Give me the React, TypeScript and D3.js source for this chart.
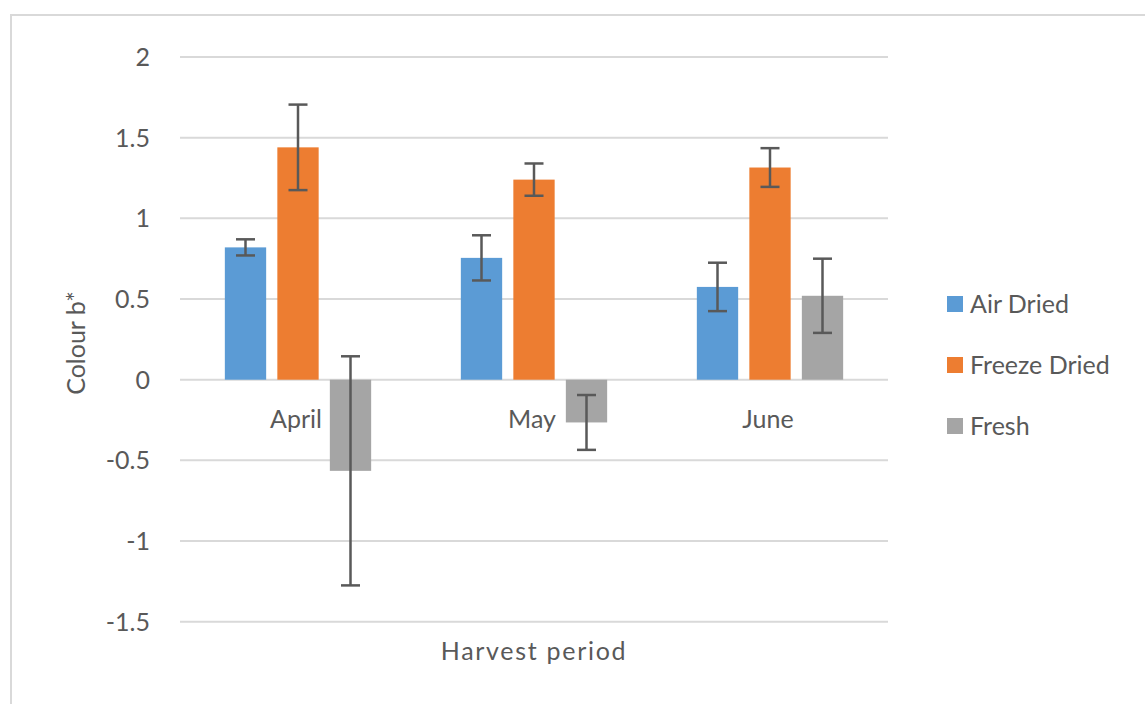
import React from "react";
import * as d3 from "d3";

const categories = ["April", "May", "June"];
const seriesNames = ["Air Dried", "Freeze Dried", "Fresh"];
const airDried = [0.82, 0.755, 0.575];
const freezeDried = [1.44, 1.24, 1.315];
const fresh = [-0.565, -0.265, 0.52];
const airDriedErr = [0.05, 0.14, 0.15];
const freezeDriedErr = [0.265, 0.1, 0.12];
const freshErr = [0.71, 0.17, 0.23];
const yTicks = [-1.5, -1, -0.5, 0, 0.5, 1, 1.5, 2];
const colors = ["#5B9BD5", "#ED7D31", "#A5A5A5"];

const W = 1145;
const H = 704;
const FONT = "Lato, 'Open Sans', sans-serif";
const TEXT = "#595959";

export default function App() {
  const seriesValues = [airDried, freezeDried, fresh];
  const seriesErrs = [airDriedErr, freezeDriedErr, freshErr];

  const y = d3.scaleLinear().domain([-1.5, 2]).range([621.7, 57]);
  const x0 = d3.scaleBand<string>().domain(categories).range([180, 888]).paddingInner(0).paddingOuter(0);
  const groupW = 157.5;
  const x1 = d3
    .scaleBand<string>()
    .domain(seriesNames)
    .range([-groupW / 2, groupW / 2])
    .paddingInner(0.213)
    .paddingOuter(0.1065);
  const bw = x1.bandwidth();
  const capW = 19;

  return (
    <svg
      width={W}
      height={H}
      style={{ position: "absolute", left: 0, top: 0, background: "#fff" }}
      fontFamily={FONT}
    >
      <rect x={0} y={0} width={W} height={H} fill="#fff" />
      <rect x={11} y={15} width={W + 20} height={H + 20} fill="none" stroke="#d9d9d9" strokeWidth={2} />

      {yTicks.map((t) => (
        <g key={t}>
          <line x1={180} x2={888} y1={y(t)} y2={y(t)} stroke="#d9d9d9" strokeWidth={2} />
          <text x={150} y={y(t)} dy="0.36em" textAnchor="end" fontSize={25} fill={TEXT}>
            {String(t)}
          </text>
        </g>
      ))}

      {categories.map((c, ci) => {
        const cx = (x0(c) as number) + x0.bandwidth() / 2;
        return (
          <g key={c}>
            {seriesNames.map((s, si) => {
              const v = seriesValues[si][ci];
              const e = seriesErrs[si][ci];
              const bx = cx + (x1(s) as number);
              const mid = bx + bw / 2;
              return (
                <g key={s}>
                  <rect
                    x={bx}
                    y={Math.min(y(v), y(0))}
                    width={bw}
                    height={Math.abs(y(v) - y(0))}
                    fill={colors[si]}
                  />
                  <g stroke="#595959" strokeWidth={2.5}>
                    <line x1={mid} x2={mid} y1={y(v + e)} y2={y(v - e)} />
                    <line x1={mid - capW / 2} x2={mid + capW / 2} y1={y(v + e)} y2={y(v + e)} />
                    <line x1={mid - capW / 2} x2={mid + capW / 2} y1={y(v - e)} y2={y(v - e)} />
                  </g>
                </g>
              );
            })}
            <text x={cx - 2} y={428} textAnchor="middle" fontSize={25} fill={TEXT}>
              {c}
            </text>
          </g>
        );
      })}

      <text x={534} y={660} textAnchor="middle" fontSize={25} letterSpacing={1.7} fill={TEXT}>
        Harvest period
      </text>
      <text
        transform={`translate(85,343) rotate(-90)`}
        textAnchor="middle"
        fontSize={25}
        fill={TEXT}
      >
        Colour b*
      </text>

      {seriesNames.map((s, i) => {
        const ly = 304 + i * 61;
        return (
          <g key={s}>
            <rect x={947} y={ly - 8} width={16} height={16} fill={colors[i]} />
            <text x={970} y={ly} dy="0.36em" fontSize={25} fill={TEXT}>
              {s}
            </text>
          </g>
        );
      })}
    </svg>
  );
}
